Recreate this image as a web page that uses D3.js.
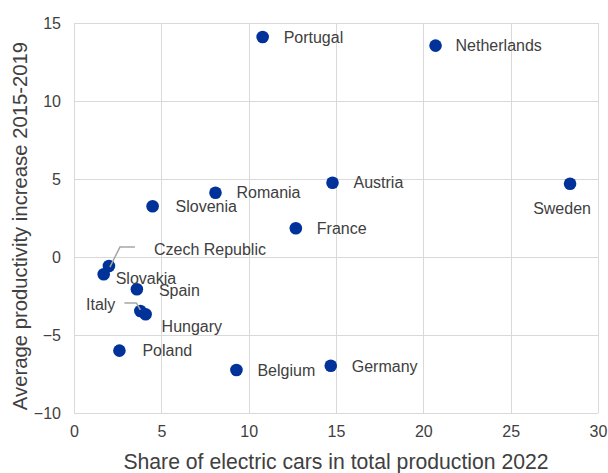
<!DOCTYPE html>
<html lang="en">
<head>
<meta charset="UTF-8">
<title>Electric cars vs productivity</title>
<style>
  body { margin: 0; background: #fff; }
  text { font-family: "Liberation Sans", Arial, sans-serif; fill: #404040; }
</style>
</head>
<body>
<svg width="608" height="473"></svg>
<script src="https://d3js.org/d3.v7.min.js"></script>
<script>
// data
var countries = ['Portugal', 'Netherlands', 'Austria', 'Romania', 'Sweden', 'France', 'Slovenia',
                 'Czech Republic', 'Slovakia', 'Spain', 'Italy', 'Hungary', 'Poland', 'Belgium', 'Germany'];
var evShare   = [10.8, 20.7, 14.8, 8.1, 28.4, 12.7, 4.5, 2.0, 1.7, 3.6, 3.8, 4.1, 2.6, 9.3, 14.7];
var prodGrowth = [14.1, 13.55, 4.76, 4.12, 4.7, 1.84, 3.25, -0.58, -1.11, -2.07, -3.46, -3.67, -6.0, -7.24, -6.97];
var xTicks = [0, 5, 10, 15, 20, 25, 30];
var yTicks = [-10, -5, 0, 5, 10, 15];

// label placement (offset from the dot, in px)
var labelPos = {
  'Portugal': [21, 0], 'Netherlands': [20, 0], 'Austria': [21, 0], 'Romania': [21, 0],
  'Sweden': [-8, 25, 'middle'], 'France': [21, 0], 'Slovenia': [23, 0],
  'Czech Republic': [45, -17], 'Slovakia': [12, 4], 'Spain': [22, 1],
  'Italy': [-25, -7, 'end'], 'Hungary': [16, 12], 'Poland': [23, 0],
  'Belgium': [21, 0], 'Germany': [21, 1]
};
var leaders = {
  'Czech Republic': [[1, 1], [11, -19], [26, -19]],
  'Italy': [[-16, -8], [-4, -8], [0, -1]]
};

var margin = {top: 23, right: 10, bottom: 60, left: 74};
var svg = d3.select('svg');
var width = +svg.attr('width');
var height = +svg.attr('height');

var x = d3.scaleLinear().domain([0, 30]).range([margin.left, 598]);
var y = d3.scaleLinear().domain([-10, 15]).range([413, margin.top]);

// grid
var g = svg.append('g');
g.selectAll('.vgrid').data(xTicks).enter().append('line')
  .attr('x1', d => Math.round(x(d)) + 0.5).attr('x2', d => Math.round(x(d)) + 0.5)
  .attr('y1', y(15)).attr('y2', y(-10))
  .attr('stroke', '#d9d9d9');
g.selectAll('.hgrid').data(yTicks).enter().append('line')
  .attr('y1', d => Math.round(y(d)) + 0.5).attr('y2', d => Math.round(y(d)) + 0.5)
  .attr('x1', x(0)).attr('x2', x(30))
  .attr('stroke', '#d9d9d9');

// axes (labels only)
var xAxis = d3.axisBottom(x).tickValues(xTicks).tickSize(0).tickPadding(13);
var yAxis = d3.axisLeft(y).tickValues(yTicks).tickSize(0).tickPadding(13);
svg.append('g').attr('transform', `translate(0, ${y(-10)})`).call(xAxis)
  .call(a => a.select('.domain').remove())
  .selectAll('text').style('font-size', '16px').attr('fill', '#404040')
  .style('font-family', '"Liberation Sans", Arial, sans-serif');
svg.append('g').attr('transform', `translate(${x(0)}, 0)`).call(yAxis)
  .call(a => a.select('.domain').remove())
  .selectAll('text').style('font-size', '16px').attr('fill', '#404040')
  .style('font-family', '"Liberation Sans", Arial, sans-serif');

svg.append('text')
  .attr('x', 336).attr('y', 469)
  .attr('text-anchor', 'middle')
  .style('font-size', '21.2px')
  .text('Share of electric cars in total production 2022');
svg.append('text')
  .attr('transform', 'translate(27, 226) rotate(-90)')
  .attr('text-anchor', 'middle')
  .style('font-size', '20.3px')
  .text('Average productivity increase 2015-2019');

var points = countries.map((c, i) => ({name: c, x: evShare[i], y: prodGrowth[i]}));

svg.append('g').selectAll('circle').data(points).enter().append('circle')
  .attr('cx', d => x(d.x)).attr('cy', d => y(d.y))
  .attr('r', 6.3).attr('fill', '#003299');

// leader lines
svg.append('g').selectAll('path').data(points.filter(d => leaders[d.name])).enter().append('path')
  .attr('d', d => d3.line()(leaders[d.name].map(p => [x(d.x) + p[0], y(d.y) + p[1]])))
  .attr('fill', 'none').attr('stroke', '#a6a6a6').attr('stroke-width', 1.5);

svg.append('g').selectAll('text').data(points).enter().append('text')
  .attr('x', d => x(d.x) + labelPos[d.name][0])
  .attr('y', d => y(d.y) + labelPos[d.name][1])
  .attr('dy', '0.35em')
  .attr('text-anchor', d => labelPos[d.name][2] || 'start')
  .style('font-size', '16px')
  .text(d => d.name);
</script>
</body>
</html>
